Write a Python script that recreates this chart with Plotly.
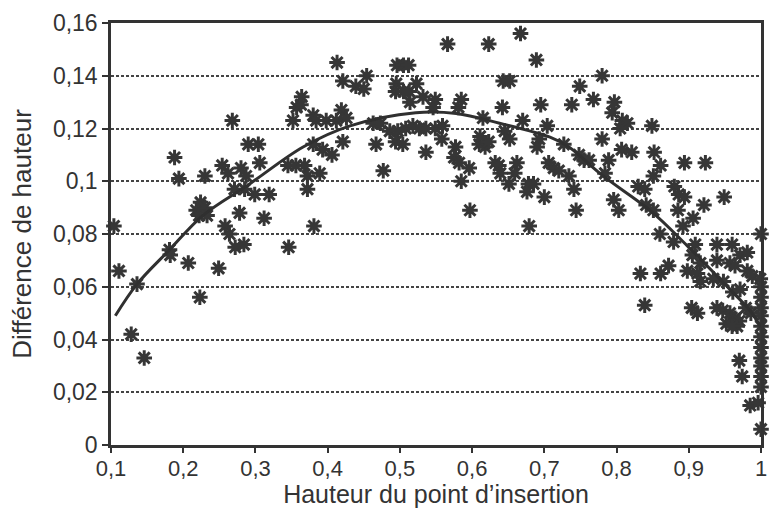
import plotly.graph_objects as go

# Scatter data: height of insertion point (x) vs height difference (y)
insertion_height = [
    0.104, 0.111, 0.136, 0.128, 0.146, 0.181, 0.182, 0.207, 0.249, 0.223,
    0.272, 0.284, 0.346, 0.268, 0.188, 0.194, 0.230, 0.254, 0.262, 0.280,
    0.287, 0.306, 0.290, 0.304, 0.271, 0.285, 0.299, 0.319, 0.345, 0.356,
    0.368, 0.372, 0.389, 0.372, 0.218, 0.224, 0.230, 0.222, 0.233, 0.278,
    0.312, 0.258, 0.264, 0.381, 0.380, 0.393, 0.406, 0.357, 0.364, 0.363,
    0.352, 0.380, 0.384, 0.398, 0.412, 0.419, 0.426,
    0.413, 0.496, 0.505, 0.512, 0.566, 0.623, 0.667, 0.689, 0.454, 0.421,
    0.439, 0.450, 0.495, 0.494, 0.505, 0.513, 0.523, 0.514, 0.532, 0.549,
    0.585, 0.581, 0.546, 0.643, 0.652, 0.749, 0.642, 0.670, 0.695, 0.738,
    0.704, 0.615, 0.463, 0.473, 0.486, 0.497, 0.508, 0.518, 0.527, 0.536,
    0.549, 0.559, 0.558, 0.645, 0.652, 0.693, 0.690, 0.727, 0.421, 0.467,
    0.494, 0.504, 0.536, 0.477, 0.577, 0.575, 0.582, 0.596, 0.610, 0.611,
    0.618, 0.623, 0.632, 0.637, 0.639, 0.662, 0.659, 0.651, 0.678, 0.685,
    0.676, 0.700, 0.706, 0.713, 0.720, 0.734, 0.741, 0.744, 0.585, 0.597,
    0.679,
    0.780, 0.768, 0.797, 0.794, 0.808, 0.815, 0.805, 0.849, 0.780, 0.748,
    0.755, 0.762, 0.784, 0.789, 0.807, 0.821, 0.852, 0.861, 0.894, 0.923,
    0.851, 0.830, 0.839, 0.880, 0.886, 0.894, 0.796, 0.803, 0.841, 0.851,
    0.885, 0.906, 0.921, 0.949, 0.892, 0.860, 0.879, 1.000, 0.909, 0.939,
    0.960, 0.971, 0.981, 0.905, 0.916, 0.898, 0.912, 0.939, 0.957, 0.964,
    0.981, 0.988, 0.999, 0.916, 0.934, 0.948, 0.961, 0.971, 1.000, 1.000,
    0.904, 0.912, 0.939, 0.947, 0.957, 0.964, 0.970, 0.967, 0.952, 0.960,
    0.979, 0.986, 1.000, 1.000, 1.000, 1.000, 1.000, 1.000, 1.000, 1.000,
    1.000, 0.833, 0.861, 0.872, 0.839, 0.970, 0.974, 0.985, 0.996, 1.000,
]
height_difference = [
    0.083, 0.066, 0.061, 0.042, 0.033, 0.074, 0.072, 0.069, 0.067, 0.056,
    0.075, 0.076, 0.075, 0.123, 0.109, 0.101, 0.102, 0.106, 0.103, 0.105,
    0.102, 0.107, 0.114, 0.114, 0.097, 0.097, 0.095, 0.095, 0.106, 0.106,
    0.106, 0.102, 0.103, 0.097, 0.089, 0.092, 0.090, 0.087, 0.087, 0.088,
    0.086, 0.083, 0.080, 0.083, 0.114, 0.112, 0.110, 0.128, 0.132, 0.129,
    0.123, 0.125, 0.123, 0.123, 0.123, 0.127, 0.124,
    0.145, 0.144, 0.144, 0.144, 0.152, 0.152, 0.156, 0.146, 0.140, 0.138,
    0.136, 0.135, 0.137, 0.134, 0.134, 0.134, 0.137, 0.130, 0.132, 0.131,
    0.131, 0.128, 0.128, 0.138, 0.138, 0.136, 0.128, 0.123, 0.129, 0.129,
    0.121, 0.124, 0.122, 0.122, 0.119, 0.119, 0.120, 0.121, 0.120, 0.120,
    0.120, 0.121, 0.116, 0.119, 0.116, 0.116, 0.113, 0.114, 0.115, 0.114,
    0.115, 0.114, 0.111, 0.104, 0.113, 0.109, 0.107, 0.105, 0.114, 0.117,
    0.113, 0.115, 0.107, 0.106, 0.103, 0.107, 0.103, 0.099, 0.099, 0.099,
    0.096, 0.094, 0.107, 0.105, 0.104, 0.102, 0.097, 0.089, 0.100, 0.089,
    0.083,
    0.140, 0.131, 0.130, 0.126, 0.123, 0.122, 0.120, 0.121, 0.116, 0.110,
    0.108, 0.108, 0.103, 0.108, 0.112, 0.111, 0.111, 0.106, 0.107, 0.107,
    0.102, 0.098, 0.097, 0.098, 0.095, 0.094, 0.093, 0.089, 0.091, 0.089,
    0.089, 0.086, 0.091, 0.094, 0.083, 0.080, 0.077, 0.080, 0.076, 0.076,
    0.076, 0.072, 0.073, 0.072, 0.069, 0.066, 0.065, 0.070, 0.069, 0.068,
    0.066, 0.064, 0.063, 0.062, 0.063, 0.062, 0.058, 0.059, 0.060, 0.056,
    0.052, 0.050, 0.052, 0.051, 0.050, 0.048, 0.047, 0.045, 0.046, 0.045,
    0.052, 0.050, 0.052, 0.049, 0.045, 0.041, 0.037, 0.033, 0.030, 0.026,
    0.022, 0.065, 0.065, 0.068, 0.053, 0.032, 0.026, 0.015, 0.016, 0.006,
]

# Fitted trend curve
fit_x = [0.106, 0.136, 0.181, 0.227, 0.292, 0.366, 0.431, 0.522, 0.578,
         0.638, 0.707, 0.734, 0.779, 0.848, 0.898, 0.957, 0.984, 1.000]
fit_y = [0.049, 0.061, 0.074, 0.087, 0.099, 0.113, 0.121, 0.126, 0.1257,
         0.122, 0.1168, 0.113, 0.1025, 0.0886, 0.0755, 0.059, 0.0512, 0.0447]

y_tick_vals = [0, 0.02, 0.04, 0.06, 0.08, 0.1, 0.12, 0.14, 0.16]
y_tick_text = ["0", "0,02", "0,04", "0,06", "0,08", "0,1", "0,12", "0,14", "0,16"]
x_tick_vals = [0.1, 0.2, 0.3, 0.4, 0.5, 0.6, 0.7, 0.8, 0.9, 1.0]
x_tick_text = ["0,1", "0,2", "0,3", "0,4", "0,5", "0,6", "0,7", "0,8", "0,9", "1"]

ink = "#363636"
font_family = "Liberation Sans, Arial, sans-serif"

fig = go.Figure()
fig.add_trace(go.Scatter(
    x=insertion_height, y=height_difference, mode="markers",
    marker=dict(symbol="asterisk-open", size=13, line=dict(width=3, color=ink), color=ink),
    cliponaxis=False, showlegend=False, hoverinfo="x+y",
))
fig.add_trace(go.Scatter(
    x=fit_x, y=fit_y, mode="lines",
    line=dict(color="#303030", width=3, shape="spline", smoothing=1.0),
    showlegend=False, hoverinfo="skip",
))

fig.update_layout(
    width=769, height=508,
    margin=dict(l=111, r=8, t=23, b=63),
    paper_bgcolor="white", plot_bgcolor="white",
    font=dict(family=font_family, color="#333333"),
    xaxis=dict(
        range=[0.1, 1.0], tickvals=x_tick_vals, ticktext=x_tick_text,
        tickfont=dict(size=22), ticks="outside", ticklen=5, tickwidth=2, tickcolor="#333",
        ticklabelstandoff=-3,
        showline=True, linewidth=2.5, linecolor="#333", mirror=True,
        showgrid=False, zeroline=False, automargin=False,
        title=dict(text="Hauteur du point d’insertion", font=dict(size=25), standoff=1),
    ),
    yaxis=dict(
        range=[0, 0.16], tickvals=y_tick_vals, ticktext=y_tick_text,
        tickfont=dict(size=23), ticks="outside", ticklen=6, tickwidth=2, tickcolor="#333",
        showline=True, linewidth=2.5, linecolor="#333", mirror=True,
        showgrid=True, gridcolor="#444", gridwidth=1.5, griddash="3px,2px",
        zeroline=False, automargin=False,
        title=dict(text="Différence de hauteur", font=dict(size=26), standoff=14),
    ),
)

fig.write_html("out.html")
